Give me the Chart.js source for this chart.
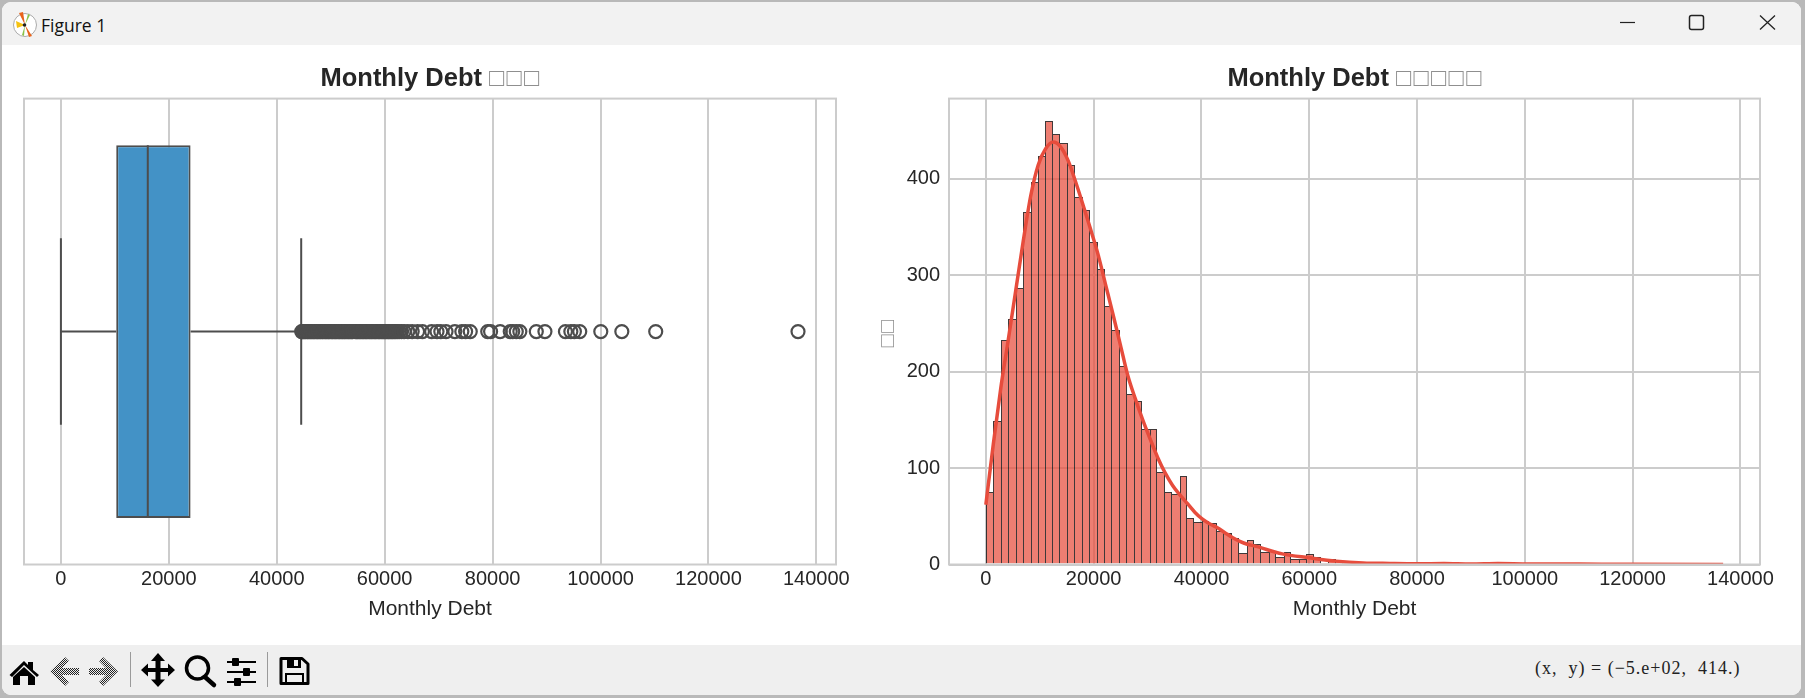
<!DOCTYPE html>
<html><head><meta charset="utf-8"><title>Figure 1</title>
<script src="https://cdn.jsdelivr.net/npm/chart.js@4"></script>
<style>
html,body{margin:0;padding:0;width:1805px;height:698px;overflow:hidden;background:#b9b9b9}
#win{position:absolute;left:2px;top:2px;width:1799px;height:693px;background:#fff;border-radius:9px;overflow:hidden}
#bar{position:absolute;left:0;top:0;width:100%;height:43px;background:#f2f2f2}
#tb{position:absolute;left:0;top:643px;width:100%;height:50px;background:#efefef}
#ft{position:absolute;left:41px;top:13px;font:17.500px "Open Sans","Liberation Sans",sans-serif;color:#111}
#co{position:absolute;left:1535px;top:658px;font:18px "Liberation Serif",serif;color:#222;letter-spacing:1px;white-space:pre}
canvas{position:absolute;display:block}
svg{position:absolute;left:0;top:0}
</style></head><body>
<div id="win"><div id="bar"></div><div id="tb"></div></div>
<canvas id="c1" width="860" height="600" style="left:0;top:45px"></canvas>
<canvas id="c2" width="945" height="600" style="left:860px;top:45px"></canvas>
<div id="ft">Figure 1</div>
<div id="co">(x,  y) = (−5.e+02,  414.)</div>
<svg width="1805" height="698" xmlns="http://www.w3.org/2000/svg">
<defs><pattern id="d" width="2" height="2" patternUnits="userSpaceOnUse"><rect width="1" height="1" fill="#222"/><rect x="1" y="1" width="1" height="1" fill="#222"/></pattern></defs>
<circle cx="25" cy="25" r="11.500" fill="#fff" stroke="#aaa"/>
<path d="M25 25L19 13L23 12ZM25 25L32 36L29 37Z" fill="#e8641b"/><path d="M25 25L16 21L17 28Z" fill="#f5c211"/><path d="M25 25L30 15L28 14Z" fill="#8bc34a"/><path d="M25 25L22 35L24 36Z" fill="#8bc34a"/><circle cx="24.500" cy="25" r="1.800" fill="#222"/>
<path d="M1620 22.500H1635" stroke="#222" stroke-width="1.200"/>
<rect x="1689.500" y="15.500" width="14" height="14" rx="2" fill="none" stroke="#222" stroke-width="1.500"/>
<path d="M1760 15.500L1775 29.500M1775 15.500L1760 29.500" stroke="#222" stroke-width="1.300"/>
<path d="M9.500 675L24 661L28 665V662H33V670L39 675L37 677L24 665L12 677Z" fill="#000"/><path d="M13 677L24 667L35 677V685H28V676H20V685H13Z" fill="#000"/>
<path d="M65 657L69 661L62 668H79V675H62L69 682L65 686L50 671.500Z" fill="url(#d)"/>
<path d="M103 657L99 661L106 668H89V675H106L99 682L103 686L118 671.500Z" fill="url(#d)"/>
<path d="M130.500 652V687M267.500 652V687" stroke="#9a9a9a"/>
<path d="M158 653L165 661H160.500V668H168V663.500L175 670L168 676.500V672H160.500V679.500H165L158 687L151 679.500H155.500V672H148V676.500L141 670L148 663.500V668H155.500V661H151Z" fill="#000"/>
<circle cx="197.500" cy="668" r="11" fill="none" stroke="#000" stroke-width="3.500"/><path d="M205 677L214 685" stroke="#000" stroke-width="4.500" stroke-linecap="round"/>
<path d="M227 662H256M227 672H256M227 682H256" stroke="#000" stroke-width="2"/><rect x="232" y="658" width="7" height="8" rx="1"/><rect x="243" y="668" width="7" height="8" rx="1"/><rect x="234" y="678" width="7" height="8" rx="1"/>
<path d="M281 658.500H302L308 664V683.500H281Z" fill="none" stroke="#000" stroke-width="3" stroke-linejoin="round"/><path d="M287 658H301V668H287Z" fill="#000"/><rect x="294" y="660" width="4" height="6" fill="#efefef"/><rect x="286" y="674" width="17" height="9" fill="none" stroke="#000" stroke-width="2"/>
</svg>
<script>
// ---- data ----
const xTitle = "Monthly Debt";
const titleHead = "Monthly Debt ";
const boxTofu = "□\u200A□\u200A□";
const histTofu = "□\u200A□\u200A□\u200A□\u200A□";
const yTitle = "□\u200A□\u2009";
const boxRange = [10250, 24030];
const medianValue = 16100;
const whiskerLow = 0;
const whiskerHigh = 44530;
const fliers = [44620,44790,44950,45180,45330,45590,45760,45980,46210,46400,46630,46850,47040,47300,47520,47690,47960,48150,48410,48600,48870,49060,49290,49540,49720,49990,50210,50390,50660,50880,51080,51350,51570,51760,52030,52240,52490,52690,52930,53180,53390,53640,53880,54060,54560,54790,54980,55240,55460,55690,55910,56120,56380,56600,56800,57070,57290,57540,57730,58000,58220,58430,58700,58920,59130,59410,59620,59850,60090,60310,60580,60790,61030,61280,61500,61790,62040,62360,62690,63120,63600,64300,65100,66100,67000,68700,69700,70400,71370,73000,74300,75000,75860,79100,79630,81400,83270,83730,84390,85050,88100,89700,93500,94500,95160,96150,100050,103950,110230,136600];
const binStart = 0;
const binWidth = 1382;
const binCounts = [75,149,233,255,287,365,397,423,460,446,437,414,381,368,334,306,268,243,206,177,169,140,140,96,75,73,92,48,44,45,43,35,33,27,12,25,21,13,14,8,13,6,6,11,8,2,6,4,2,2,1,1,1,1,1,0,1,1,0,0,2,1,1,1,1,0,0,1,2,1,0,0,1,0,0,1,0,0,0,1,0,0,0,0,0,0,0,0,0,0,0,0,0,0,0,0,0,0,1];
const kdeX = [0,1386,2772,4158,5544,6930,8316,9700,11088,12500,13860,15246,16632,18018,19404,20790,22176,23562,24948,26334,27720,29106,30492,31878,33264,34650,36036,37422,38808,40194,41580,42966,44352,45738,47124,48510,50000,55000,60000,65000,70000,75000,80000,85000,90000,95000,100000,110000,120000,136800];
const kdeY = [62,125,183,233,284,335,382,414,431,438,433,419,397,373,348,322,291,260,228,196,172,150,130,111,95,82,72,63,54,47,42,38,33,28,24,21,19,11,7,3.500,1.600,1.100,0.800,1,0.500,1,0.600,0.400,0.200,0.100];
const xTicks = [0,20000,40000,60000,80000,100000,120000,140000];

// ---- styling ----
const ink = "#262626", gridC = "#cccccc", lineC = "#4d4d4d", tofuC = "#8f8f8f";
const fam = '"Liberation Sans",Arial,sans-serif';
const titleFont = {size:25.5,weight:"bold"};
Chart.defaults.font.family = fam;
Chart.defaults.color = ink;
const frame = {id:"frame", afterDatasetsDraw(ch){const a=ch.chartArea,c=ch.ctx;c.save();c.strokeStyle=gridC;c.lineWidth=2;c.strokeRect(a.left,a.top,a.width,a.height);c.restore();}};
// Bars keep the positions the scales gave them, only rounded to whole pixels so that their edges stay crisp.
const snapBars = {id:"snapBars", afterDatasetsUpdate(ch){
  ch.getDatasetMeta(0).data.forEach(el=>{
    const l=Math.round(el.x-el.width/2), r=Math.round(el.x+el.width/2);
    el.x=(l+r)/2; el.width=r-l; el.y=Math.round(el.y);
  });
}};
const xAxis = () => ({
  type:"linear", min:-6840, max:143640, offset:false,
  afterBuildTicks(s){s.ticks = xTicks.map(v=>({value:v}));},
  afterFit(s){s.height=66;},
  grid:{color:gridC,lineWidth:2,drawTicks:false,offset:false},
  border:{display:false},
  ticks:{font:{size:20},padding:3,color:ink,maxRotation:0,autoSkip:false,includeBounds:false,callback:v=>String(v)},
  title:{display:true,text:xTitle,font:{size:21},color:ink,padding:{top:0,bottom:9}}
});
function titleOpt(canvas, tofu){
  const c = canvas.getContext("2d");
  c.font = `bold ${titleFont.size}px ${fam}`;
  const text = titleHead + tofu, w = c.measureText(text).width, head = c.measureText(titleHead).width;
  const g = c.createLinearGradient(-w/2,0,w/2,0), s = head/w;
  g.addColorStop(0,ink); g.addColorStop(s,ink); g.addColorStop(s,tofuC); g.addColorStop(1,tofuC);
  return {display:true,text,fullSize:false,color:g,font:titleFont,padding:{top:19,bottom:4}};
}

// ---- left: box plot ----
const c1 = document.getElementById("c1"), c2 = document.getElementById("c2");
const strokeSet = d => ({type:"scatter",indexAxis:"x",showLine:true,pointRadius:0,borderColor:lineC,borderWidth:2,data:d});
new Chart(c1,{
  type:"bar",
  data:{datasets:[
    {type:"bar",data:[{x:boxRange,y:0}],backgroundColor:"#4392c6",borderColor:lineC,borderWidth:2,borderSkipped:false,categoryPercentage:0.8,barPercentage:1,order:3},
    {...strokeSet([{x:medianValue,y:-0.4},{x:medianValue,y:0.4}]),order:1},
    {...strokeSet([{x:whiskerLow,y:0},{x:boxRange[0],y:0}]),order:4},
    {...strokeSet([{x:boxRange[1],y:0},{x:whiskerHigh,y:0}]),order:4},
    {...strokeSet([{x:whiskerLow,y:-0.2},{x:whiskerLow,y:0.2}]),order:4},
    {...strokeSet([{x:whiskerHigh,y:-0.2},{x:whiskerHigh,y:0.2}]),order:4},
    {type:"scatter",indexAxis:"x",showLine:false,pointRadius:6.500,pointBorderWidth:2.200,pointBackgroundColor:"rgba(0,0,0,0)",pointBorderColor:lineC,data:fliers.map(v=>({x:v,y:0})),order:0}
  ]},
  options:{
    indexAxis:"y",responsive:false,animation:false,devicePixelRatio:1,
    layout:{padding:{left:24,right:24,top:0,bottom:14.5}},
    plugins:{legend:{display:false},tooltip:{enabled:false},title:titleOpt(c1,boxTofu)},
    scales:{
      x:xAxis(),
      y:{type:"linear",display:false,min:-0.5,max:0.5,offset:false,grid:{display:false},
         afterBuildTicks(s){s.ticks=[{value:-0.5},{value:0.5}];}}
    }
  },
  plugins:[frame]
});

// ---- right: histogram + density ----
const edge = (ctx,side) => {
  const i = ctx.dataIndex, n = binCounts[i], nb = binCounts[i+side];
  return n > 0 && (nb === undefined || n > nb || (side < 0 && n === nb)) ? 1 : 0;
};
new Chart(c2,{
  type:"bar",
  data:{datasets:[
    {type:"bar",data:binCounts.map((n,i)=>({x:binStart+binWidth*(i+0.5),y:n})),backgroundColor:"rgba(231,76,60,0.72)",borderColor:"rgba(30,22,22,0.85)",borderWidth:ctx=>({top:1,bottom:0,left:edge(ctx,-1),right:edge(ctx,1)}),borderSkipped:false,inflateAmount:0,categoryPercentage:1,barPercentage:1,grouped:false,order:2},
    {type:"line",data:kdeX.map((x,i)=>({x,y:kdeY[i]})),borderColor:"#e74c3c",borderWidth:3.500,pointRadius:0,cubicInterpolationMode:"monotone",order:1}
  ]},
  options:{
    responsive:false,animation:false,devicePixelRatio:1,
    layout:{padding:{left:0,right:45,top:0,bottom:14.5}},
    plugins:{legend:{display:false},tooltip:{enabled:false},title:titleOpt(c2,histTofu)},
    scales:{
      x:xAxis(),
      y:{type:"linear",min:0,max:483,
        afterFit(s){s.width=89;},
        grid:{color:gridC,lineWidth:2,drawTicks:false},border:{display:false},
        ticks:{stepSize:100,font:{size:20},padding:9,color:ink,includeBounds:false},
        title:{display:true,text:yTitle,font:{size:21},color:tofuC,padding:{top:16,bottom:0}}
      }
    }
  },
  plugins:[frame,snapBars]
});
</script>
</body></html>
